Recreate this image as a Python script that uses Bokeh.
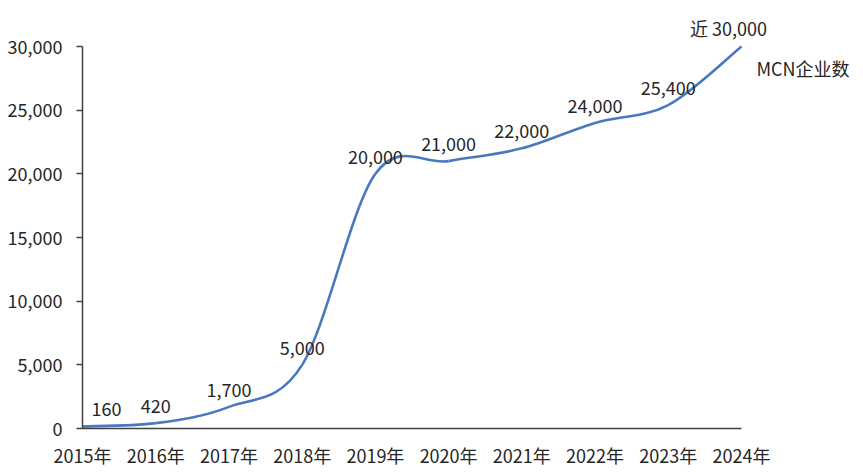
import numpy as np
from bokeh.plotting import figure
from bokeh.models import (ColumnDataSource, FixedTicker, NumeralTickFormatter,
                          Range1d, LabelSet, Label)
from bokeh.core.properties import value
from bokeh.embed import file_html
from bokeh.resources import INLINE

# ---- data ----
years = [2015, 2016, 2017, 2018, 2019, 2020, 2021, 2022, 2023, 2024]
year_labels = ["2015年", "2016年", "2017年", "2018年", "2019年",
               "2020年", "2021年", "2022年", "2023年", "2024年"]
mcn_count = [160, 420, 1700, 5000, 20000, 21000, 22000, 24000, 25400, 30000]
value_labels = ["160", "420", "1,700", "5,000", "20,000", "21,000",
                "22,000", "24,000", "25,400", "近 30,000"]
series_name = "MCN企业数"
y_ticks = [0, 5000, 10000, 15000, 20000, 25000, 30000]
y_axis_max = 30000

# ---- style / layout ----
FONT = "Noto Sans CJK SC"
FS = "18px"
LINE_COLOR = "#4A78BE"
TEXT_COLOR = "#262626"
AXIS_COLOR = "#404040"
label_x_offsets = [24, 0, 0, 0, 0, 0, 0, 0, 0, -13]
label_y_offsets = [17, 17, 17, 17, 17, 17, 17, 17, 17, 19]

W, H = 863, 472
LEFT, BOTTOM = 82, 44          # frame starts at x=82, x-axis at y=428
AXIS_W = 741 - 82              # pixel width of 2015..2024
AXIS_H = 428 - 46              # pixel height of 0..30000
frame_w = W - LEFT
frame_h = H - BOTTOM
span_years = years[-1] - years[0]
x_end = years[0] + span_years * frame_w / AXIS_W
y_end = y_axis_max * frame_h / AXIS_H

p = figure(width=W, height=H, output_backend="svg", toolbar_location=None,
           x_range=Range1d(years[0], x_end), y_range=Range1d(0, y_end),
           min_border_left=LEFT, min_border_right=0, min_border_top=0,
           min_border_bottom=BOTTOM)
p.outline_line_color = None
p.grid.visible = False
p.background_fill_color = "white"
p.border_fill_color = "white"

# smooth line as cubic Bezier segments (Catmull-Rom style control points)
x = np.array(years, dtype=float)
y = np.array(mcn_count, dtype=float)
xp = np.concatenate([[x[0]], x, [x[-1]]])
yp = np.concatenate([[y[0]], y, [y[-1]]])
n = len(x)
cx0 = x[:-1] + (xp[2:n + 1] - xp[0:n - 1]) / 6.0
cy0 = y[:-1] + (yp[2:n + 1] - yp[0:n - 1]) / 6.0
cx1 = x[1:] - (xp[3:n + 2] - xp[1:n]) / 6.0
cy1 = y[1:] - (yp[3:n + 2] - yp[1:n]) / 6.0
bez = ColumnDataSource(dict(x0=x[:-1], y0=y[:-1], x1=x[1:], y1=y[1:],
                            cx0=cx0, cy0=cy0, cx1=cx1, cy1=cy1))
p.bezier(x0="x0", y0="y0", x1="x1", y1="y1", cx0="cx0", cy0="cy0",
         cx1="cx1", cy1="cy1", source=bez, line_color=LINE_COLOR,
         line_width=2.6)

# data labels
lab_src = ColumnDataSource(dict(x=years, y=mcn_count, t=value_labels,
                                xo=label_x_offsets, yo=label_y_offsets))
labels = LabelSet(x="x", y="y", text="t", source=lab_src, x_offset="xo",
                  y_offset="yo", text_align="center", text_baseline="middle",
                  text_font=value(FONT), text_font_size=value(FS),
                  text_color=TEXT_COLOR)
p.add_layout(labels)

# series name (legend-like text)
p.add_layout(Label(x=years[-1], y=mcn_count[-1], text=series_name,
                   x_offset=15, y_offset=-21, text_font=FONT,
                   text_font_size=FS, text_color=TEXT_COLOR,
                   text_align="left", text_baseline="middle"))

# axes
xa = p.xaxis[0]
xa.ticker = FixedTicker(ticks=years)
xa.bounds = (years[0], years[-1])
xa.major_label_overrides = {yr: lab for yr, lab in zip(years, year_labels)}
xa.major_tick_out = 0
xa.major_tick_in = 0
xa.minor_tick_out = 0
xa.axis_line_color = AXIS_COLOR
xa.axis_line_width = 1.5
xa.major_label_standoff = 13
xa.major_label_text_font = FONT
xa.major_label_text_font_size = FS
xa.major_label_text_color = TEXT_COLOR

ya = p.yaxis[0]
ya.ticker = FixedTicker(ticks=y_ticks)
ya.bounds = (0, y_axis_max)
ya.formatter = NumeralTickFormatter(format="0,0")
ya.major_tick_out = 6
ya.major_tick_in = 0
ya.minor_tick_out = 0
ya.major_tick_line_color = AXIS_COLOR
ya.major_tick_line_width = 1.5
ya.axis_line_color = AXIS_COLOR
ya.axis_line_width = 1.5
ya.major_label_standoff = 14
ya.major_label_text_font = FONT
ya.major_label_text_font_size = FS
ya.major_label_text_color = TEXT_COLOR

open("out.html", "w").write(file_html(p, INLINE))
